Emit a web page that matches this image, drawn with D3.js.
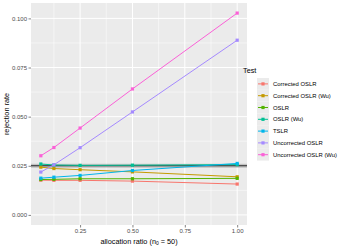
<!DOCTYPE html>
<html><head><meta charset="utf-8">
<script src="https://cdn.jsdelivr.net/npm/d3@7/dist/d3.min.js"></script>
<style>body{margin:0;background:#fff}svg{display:block;font-family:"Liberation Sans",Arial,sans-serif}</style>
</head><body>
<script>
const ratios = [0.0625, 0.125, 0.25, 0.5, 1];
const tests = ["Corrected OSLR","Corrected OSLR (Wu)","OSLR","OSLR (Wu)","TSLR","Uncorrected OSLR","Uncorrected OSLR (Wu)"];
const colors = ["#F8766D","#C49A00","#53B400","#00C094","#00B6EB","#A58AFF","#FB61D7"];
const correctedOSLR   = [0.0177, 0.0176, 0.0176, 0.0172, 0.0157];
const correctedOSLRWu = [0.0243, 0.0236, 0.0230, 0.0219, 0.0194];
const oslr            = [0.0180, 0.0181, 0.0184, 0.0184, 0.0186];
const oslrWu          = [0.0259, 0.0254, 0.0252, 0.0253, 0.0256];
const tslr            = [0.0187, 0.0192, 0.0201, 0.0226, 0.0262];
const uncorrected     = [0.0218, 0.0255, 0.0342, 0.0524, 0.0889];
const uncorrectedWu   = [0.0301, 0.0343, 0.0442, 0.0641, 0.1027];
const seriesValues = [correctedOSLR, correctedOSLRWu, oslr, oslrWu, tslr, uncorrected, uncorrectedWu];
const xTicks = [0.25, 0.5, 0.75, 1.0];
const xTickLabels = ["0.25","0.50","0.75","1.00"];
const yTicks = [0, 0.025, 0.05, 0.075, 0.1];
const yTickLabels = ["0.000","0.025","0.050","0.075","0.100"];
const nominal = 0.025, nominalBand = [0.024, 0.026];

const W = 349, H = 249;
const P = {l: 31, r: 247, t: 3, b: 225};
const svg = d3.select("body").append("svg").attr("width", W).attr("height", H);

const xmin = 0.0625, xmax = 1, xpad = (xmax - xmin) * 0.05;
const ymax = 0.1027, ypad = ymax * 0.05;
const x = d3.scaleLinear().domain([xmin - xpad, xmax + xpad]).range([P.l, P.r]);
const y = d3.scaleLinear().domain([0 - ypad, ymax + ypad]).range([P.b, P.t]);

svg.append("rect").attr("x", P.l).attr("y", P.t).attr("width", P.r - P.l).attr("height", P.b - P.t).attr("fill", "#EBEBEB");
const g = svg.append("g");
// minor grid
const xMinor = [0.125, 0.375, 0.625, 0.875];
const yMinor = [0.0125, 0.0375, 0.0625, 0.0875];
g.selectAll(".xm").data(xMinor).enter().append("line").attr("x1", d => x(d)).attr("x2", d => x(d)).attr("y1", P.t).attr("y2", P.b).attr("stroke", "#fff").attr("stroke-width", 0.5);
g.selectAll(".ym").data(yMinor).enter().append("line").attr("y1", d => y(d)).attr("y2", d => y(d)).attr("x1", P.l).attr("x2", P.r).attr("stroke", "#fff").attr("stroke-width", 0.5);
g.selectAll(".xM").data(xTicks).enter().append("line").attr("x1", d => x(d)).attr("x2", d => x(d)).attr("y1", P.t).attr("y2", P.b).attr("stroke", "#fff").attr("stroke-width", 1);
g.selectAll(".yM").data(yTicks).enter().append("line").attr("y1", d => y(d)).attr("y2", d => y(d)).attr("x1", P.l).attr("x2", P.r).attr("stroke", "#fff").attr("stroke-width", 1);

// nominal band and line
svg.append("rect").attr("x", P.l).attr("width", P.r - P.l).attr("y", y(nominalBand[1])).attr("height", y(nominalBand[0]) - y(nominalBand[1])).attr("fill", "#999").attr("opacity", 0.5);
svg.append("line").attr("x1", P.l).attr("x2", P.r).attr("y1", y(nominal)).attr("y2", y(nominal)).attr("stroke", "#222").attr("stroke-width", 1);

const line = d3.line().x((d, i) => x(ratios[i])).y(d => y(d));
seriesValues.forEach((vals, k) => {
  svg.append("path").attr("d", line(vals)).attr("fill", "none").attr("stroke", colors[k]).attr("stroke-width", 1);
  svg.selectAll(null).data(vals).enter().append("rect")
    .attr("x", (d, i) => x(ratios[i]) - 1.6).attr("y", d => y(d) - 1.6).attr("width", 3.2).attr("height", 3.2)
    .attr("fill", colors[k]);
});

// axes
const ax = svg.append("g").attr("transform", `translate(0,${P.b})`)
  .call(d3.axisBottom(x).tickValues(xTicks).tickFormat((d, i) => xTickLabels[i]).tickSize(2.5).tickPadding(1.5));
const ay = svg.append("g").attr("transform", `translate(${P.l},0)`)
  .call(d3.axisLeft(y).tickValues(yTicks).tickFormat((d, i) => yTickLabels[i]).tickSize(2.5).tickPadding(1.5));
[ax, ay].forEach(a => {
  a.select(".domain").remove();
  a.selectAll(".tick line").attr("stroke", "#333").attr("stroke-width", 0.6);
  a.selectAll(".tick text").attr("fill", "#4D4D4D").style("font-size", "6px");
});

// axis titles
const xt = svg.append("text").attr("x", (P.l + P.r) / 2).attr("y", 243.5).attr("text-anchor", "middle").style("font-size", "7.3px").attr("fill", "#000");
xt.append("tspan").text("allocation ratio (n");
xt.append("tspan").attr("dy", 1.5).style("font-size", "5px").text("0");
xt.append("tspan").attr("dy", -1.5).text(" = 50)");
svg.append("text").attr("transform", `translate(9,${(P.t + P.b) / 2}) rotate(-90)`).attr("text-anchor", "middle").style("font-size", "7.3px").text("rejection rate");

// legend
const lx = 257, ly0 = 78, step = 11.8;
svg.append("text").attr("x", 243).attr("y", 73).style("font-size", "7.3px").text("Test");
const leg = svg.append("g");
tests.forEach((t, k) => {
  const yy = ly0 + k * step;
  leg.append("rect").attr("x", lx).attr("y", yy).attr("width", 12).attr("height", step).attr("fill", "#EBEBEB");
  leg.append("line").attr("x1", lx + 1).attr("x2", lx + 11).attr("y1", yy + step / 2).attr("y2", yy + step / 2).attr("stroke", colors[k]).attr("stroke-width", 1);
  leg.append("rect").attr("x", lx + 6 - 1.6).attr("y", yy + step / 2 - 1.6).attr("width", 3.2).attr("height", 3.2).attr("fill", colors[k]);
  leg.append("text").attr("x", lx + 16).attr("y", yy + step / 2 + 2).style("font-size", "5.9px").attr("fill", "#000").text(t);
});
</script>
</body></html>
